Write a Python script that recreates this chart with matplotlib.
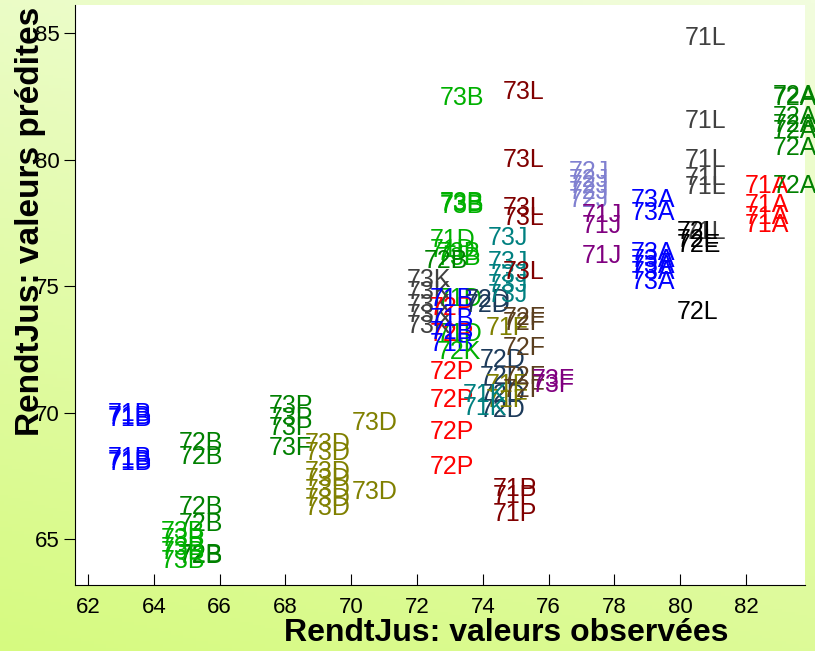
import numpy as np
import matplotlib
matplotlib.use("Agg")
import matplotlib.pyplot as plt

plt.rcParams["font.family"] = ["Liberation Sans", "DejaVu Sans"]

# observed / predicted values for each group of labels
obs_71B = [62.6, 62.6, 62.6, 62.6, 62.6, 62.6]
pred_71B = [69.95, 69.85, 69.75, 68.2, 68.1, 68.0]

obs_72B = [64.75, 64.75, 64.75, 64.75, 64.75, 64.75]
pred_72B = [68.8, 68.25, 66.3, 65.6, 64.4, 64.35]

obs_73B = [64.2, 64.2, 64.2, 64.2, 64.2, 72.7, 72.7, 72.7, 72.7, 72.6, 72.6]
pred_73B = [65.28, 65.0, 64.68, 64.49, 64.13, 82.44, 78.3, 78.25, 78.17, 76.3, 76.1]

obs_73P = [67.5, 67.5, 67.5]
pred_73P = [70.25, 69.8, 69.42]
obs_73Fg = [67.5]
pred_73Fg = [68.63]

obs_73D = [70.0, 70.0, 68.6, 68.6, 68.6, 68.6, 68.6, 68.6, 68.6]
pred_73D = [69.58, 66.89, 68.75, 68.43, 67.68, 67.37, 66.97, 66.58, 66.26]

obs_71D = [72.4, 72.4, 72.6, 72.6]
pred_71D = [76.83, 76.45, 74.5, 73.1]
obs_72Bc = [72.2]
pred_72Bc = [76.0]

obs_73K = [71.7, 71.7, 71.7, 71.7, 71.7]
pred_73K = [75.26, 74.78, 74.27, 73.88, 73.44]

obs_72P = [72.4, 72.4, 72.4, 72.4, 72.4, 72.4]
pred_72P = [74.15, 73.1, 71.63, 70.52, 69.26, 67.88]

obs_71Bc = [72.4, 72.4, 72.4, 72.4]
pred_71Bc = [74.5, 73.7, 73.2, 72.7]

obs_72D = [73.45, 73.45, 73.9, 73.9, 73.9, 73.9]
pred_72D = [74.47, 74.27, 72.1, 71.4, 70.72, 70.13]

obs_71F = [74.1, 74.1, 74.1]
pred_71F = [73.36, 71.11, 70.52]

obs_72F = [74.6, 74.6, 74.6, 74.6, 74.6]
pred_72F = [73.76, 73.56, 72.57, 71.4, 70.92]

obs_73F = [75.5, 75.5]
pred_73F = [71.3, 71.1]

obs_73J = [74.15, 74.15, 74.15, 74.15, 74.15]
pred_73J = [76.91, 75.97, 75.45, 75.06, 74.66]

obs_71K = [73.4, 73.4]
pred_71K = [70.7, 70.2]
obs_72K = [72.6]
pred_72K = [72.4]

obs_73L = [74.6, 74.6, 74.6, 74.6, 74.6]
pred_73L = [82.67, 79.99, 78.1, 77.7, 75.57]

obs_71P = [74.3, 74.3, 74.3]
pred_71P = [67.0, 66.7, 66.0]

obs_72J = [76.6, 76.6, 76.6, 76.6, 76.6]
pred_72J = [79.52, 79.2, 78.96, 78.73, 78.41]

obs_71J = [77.0, 77.0, 77.0]
pred_71J = [77.82, 77.39, 76.2]

obs_73A = [78.5, 78.5, 78.5, 78.5, 78.5, 78.5, 78.5]
pred_73A = [78.41, 77.9, 76.32, 76.04, 75.8, 75.57, 75.18]

obs_71L = [80.15, 80.15, 80.15, 80.15, 80.15, 80.15]
pred_71L = [84.8, 81.53, 79.99, 79.28, 78.92, 77.15]

obs_72L = [79.9, 79.9, 79.9]
pred_72L = [77.15, 76.83, 74.0]
obs_72E = [79.9]
pred_72E = [76.64]

obs_71A = [81.97, 81.97, 81.97, 81.97]
pred_71A = [78.96, 78.2, 77.74, 77.43]

obs_72A = [82.8, 82.8, 82.8, 82.8, 82.8, 82.8, 82.8]
pred_72A = [82.51, 82.45, 81.69, 81.37, 81.13, 80.46, 78.96]

series = [
    ("71B", obs_71B, pred_71B, "#0000ff"),
    ("72B", obs_72B, pred_72B, "#008000"),
    ("73B", obs_73B, pred_73B, "#00b000"),
    ("73P", obs_73P, pred_73P, "#008000"),
    ("73F", obs_73Fg, pred_73Fg, "#008000"),
    ("73D", obs_73D, pred_73D, "#808000"),
    ("71D", obs_71D, pred_71D, "#00b000"),
    ("72B", obs_72Bc, pred_72Bc, "#008000"),
    ("73K", obs_73K, pred_73K, "#404040"),
    ("72P", obs_72P, pred_72P, "#ff0000"),
    ("71B", obs_71Bc, pred_71Bc, "#0000ff"),
    ("72D", obs_72D, pred_72D, "#1c3a5a"),
    ("71F", obs_71F, pred_71F, "#808000"),
    ("72F", obs_72F, pred_72F, "#5a3e1e"),
    ("73F", obs_73F, pred_73F, "#800080"),
    ("73J", obs_73J, pred_73J, "#008080"),
    ("71K", obs_71K, pred_71K, "#008080"),
    ("72K", obs_72K, pred_72K, "#00b000"),
    ("73L", obs_73L, pred_73L, "#800000"),
    ("71P", obs_71P, pred_71P, "#800000"),
    ("72J", obs_72J, pred_72J, "#8080d0"),
    ("71J", obs_71J, pred_71J, "#800080"),
    ("73A", obs_73A, pred_73A, "#0000ff"),
    ("71L", obs_71L, pred_71L, "#404040"),
    ("72L", obs_72L, pred_72L, "#000000"),
    ("72E", obs_72E, pred_72E, "#000000"),
    ("71A", obs_71A, pred_71A, "#ff0000"),
    ("72A", obs_72A, pred_72A, "#008000"),
]

fig = plt.figure(figsize=(8.15, 6.51), dpi=100)

# gradient background
bg = fig.add_axes([0, 0, 1, 1], zorder=-10)
yy, xx = np.mgrid[0:1:200j, 0:1:200j]
top = np.array([242, 253, 222]) / 255
bot = np.array([214, 250, 128]) / 255
t = np.clip(0.75 * yy + 0.25 * (1 - xx), 0, 1)[..., None]
img = top * (1 - t) + bot * t
bg.imshow(img, aspect="auto", extent=[0, 1, 0, 1], origin="upper")
bg.axis("off")

ax = fig.add_axes([0.092, 0.1014, 0.896, 0.8906])
ax.set_facecolor("white")
ax.set_xlim(61.6, 83.8)
ax.set_ylim(63.2, 86.1)

for lab, xs, ys, col in series:
    for x, y in zip(xs, ys):
        ax.text(x, y, lab, color=col, fontsize=18, ha="left", va="center",
                clip_on=False)

ax.set_xticks(np.arange(62, 83, 2))
ax.set_yticks([65, 70, 75, 80, 85])
ax.tick_params(axis="x", direction="in", length=8, labelsize=16, pad=9)
ax.tick_params(axis="y", direction="out", length=8, labelsize=16, pad=3)
ax.spines["top"].set_visible(False)
ax.spines["right"].set_visible(False)

fig.text(0.621, 0.004, "RendtJus: valeurs observées", fontsize=23,
         fontweight="bold", ha="center", va="bottom")
fig.text(0.037, 0.66, "RendtJus: valeurs prédites", fontsize=24,
         fontweight="bold", ha="center", va="center", rotation=90)

fig.savefig("out.png", dpi=100)
